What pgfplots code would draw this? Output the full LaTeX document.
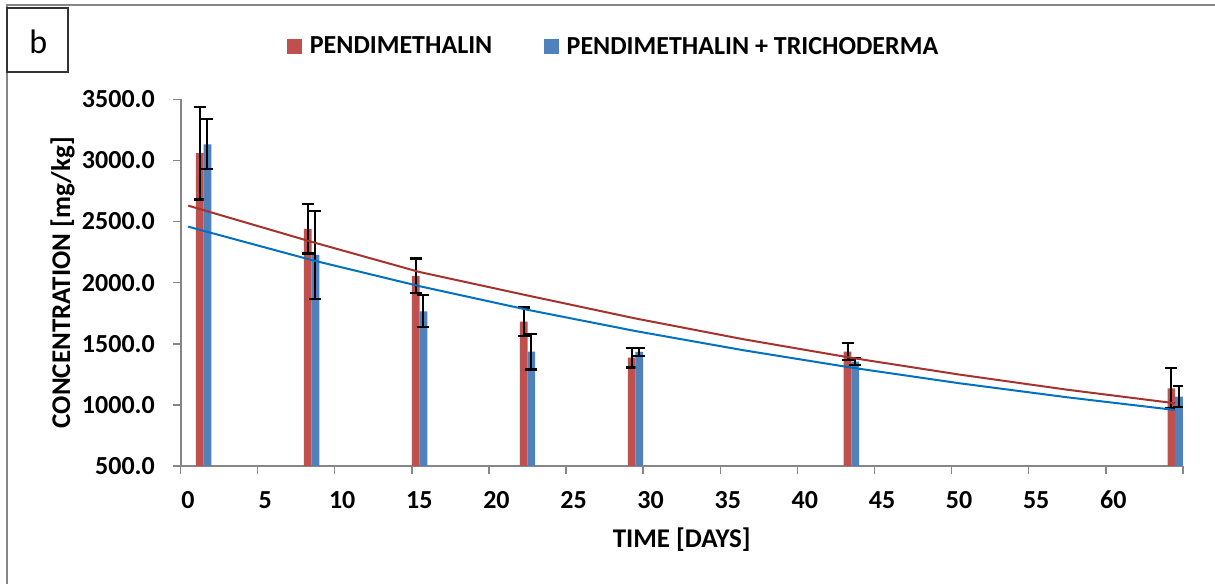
\documentclass[border=0pt]{standalone}
\usepackage{pgfplots}
\pgfplotsset{compat=1.18}
\usepackage{pgfplotstable}
\usepackage{fontspec}
\setmainfont{Carlito}
\definecolor{barred}{HTML}{C0504D}
\definecolor{barblue}{HTML}{4F81BD}
\definecolor{trendred}{HTML}{A5322D}
\definecolor{trendblue}{HTML}{0070C0}
\definecolor{axisgray}{HTML}{868686}

\pgfplotstableread{
day red redErr blue blueErr
1  3059 378 3132 205
8  2440 202 2227 361
15 2055 142 1766 132
22 1681 115 1435 145
29 1386 80  1434 31
43 1436 68  1353 28
64 1136 166 1067 86
}\bars

\pgfplotstableread{
x    red  blue
0.5  2630 2458
8.5  2334 2185
15.5 2087 1971
22.5 1895 1778
29.5 1707 1604
36.5 1537 1447
43.5 1385 1305
50.5 1248 1177
57.5 1124 1062
64.5 1013 958
}\trend

\begin{document}
\begin{tikzpicture}
\useasboundingbox (0,0) rectangle (1215bp,584bp);
\draw[axisgray, line width=2bp] (7.3bp,0) -- (7.3bp,578.5bp) -- (1215bp,578.5bp);
\draw[black!80, line width=2bp] (7.3bp,512bp) rectangle (68bp,576bp);
\node[anchor=base, inner sep=0pt, font=\fontsize{34bp}{40bp}\selectfont] at (38.3bp,530.7bp) {b};
\begin{axis}[
  at={(180.5bp,118bp)}, anchor=south west,
  scale only axis, width=1002.5bp, height=366.7bp,
  xmin=0, xmax=65, ymin=500, ymax=3500,
  axis x line*=bottom, axis y line*=left,
  axis line style={axisgray, line width=2bp, -},
  tick style={axisgray, line width=1.5bp},
  tick align=outside, major tick length=7.5bp,
  xtick={0,5,...,65},
  xticklabels={0,5,10,15,20,25,30,35,40,45,50,55,60,{}},
  ytick={500,1000,...,3500},
  /pgf/number format/assume math mode=true,
  yticklabel={\pgfmathprintnumber[fixed,fixed zerofill,precision=1,1000 sep={}]{\tick}},
  ticklabel style={font=\bfseries\fontsize{26bp}{30bp}\selectfont, inner sep=0pt},
  xticklabel style={anchor=base, yshift=-34.5bp, xshift=7.5bp},
  yticklabel style={anchor=east, xshift=-18bp},
  xlabel={TIME [DAYS]},
  ylabel={CONCENTRATION [mg/kg]},
  label style={font=\bfseries\fontsize{27bp}{30bp}\selectfont, inner sep=0pt},
  xlabel style={at={(axis description cs:0.5,-0.2236)}, anchor=base},
  ylabel style={at={(axis description cs:-0.1102,0.5)}, anchor=base},
  legend columns=2,
  legend style={at={(axis description cs:0.1065,1.1445)}, anchor=west, draw=none, fill=none,
    inner sep=0pt, font=\bfseries\fontsize{26bp}{30bp}\selectfont,
    /tikz/every odd column/.append style={column sep=6bp},
    /tikz/every even column/.append style={column sep=50bp}},
  legend image code/.code={\fill[#1] (0bp,-7.2bp) rectangle (14.4bp,7.2bp);},
  clip=true,
]
\addplot[ybar, bar width=0.5, bar shift=0, fill=barred, draw=none,
  error bars/.cd, y dir=both, y explicit,
  error bar style={black, line width=2bp},
  error mark options={black, line width=2.2bp, mark size=6bp, rotate=90}]
  table[x expr=\thisrow{day}+0.25, y=red, y error=redErr] {\bars};
\addlegendentry{PENDIMETHALIN}
\addplot[ybar, bar width=0.5, bar shift=0, fill=barblue, draw=none,
  error bars/.cd, y dir=both, y explicit,
  error bar style={black, line width=2bp},
  error mark options={black, line width=2.2bp, mark size=6bp, rotate=90}]
  table[x expr=\thisrow{day}+0.75, y=blue, y error=blueErr] {\bars};
\addlegendentry{PENDIMETHALIN + TRICHODERMA}
\addplot[forget plot, sharp plot, no marks, trendred, line width=2bp] table[x=x, y=red] {\trend};
\addplot[forget plot, sharp plot, no marks, trendblue, line width=2bp] table[x=x, y=blue] {\trend};
\end{axis}
\end{tikzpicture}
\end{document}
